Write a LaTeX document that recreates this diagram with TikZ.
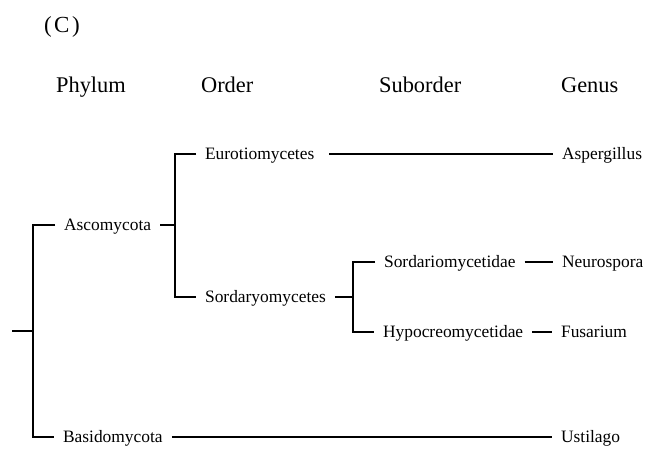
\documentclass[tikz,border=0pt]{standalone}
\usepackage{fontspec}
\setmainfont{Liberation Serif}
\usetikzlibrary{calc}

\begin{document}
\begin{tikzpicture}[x=1pt, y=-1pt, line width=2.2pt, line join=miter,
    rank/.style={font=\fontsize{22.4}{26}\selectfont, anchor=base west, inner sep=0pt},
    taxon/.style={font=\fontsize{17.4}{20}\selectfont, anchor=west, text height=11.5pt, text depth=0pt, inner xsep=8pt, inner ysep=0pt}]
            \useasboundingbox (0,0) rectangle (654,448);
            \node[font=\fontsize{23}{26}\selectfont, anchor=base west, inner sep=0pt] (panel) at (43,32) {(\kern2.5pt C\kern2.5pt)};
            \node[rank] (phylum) at (55,92) {Phylum};
            \node[rank] (order) at (200,92) {Order};
            \node[rank] (suborder) at (378,92) {Suborder};
            \node[rank] (genus) at (560,92) {Genus};
            % taxa
            \node[taxon] (asco) at (55,225) {Ascomycota};
            \node[taxon] (basi) at (54,437) {Basidomycota};
            \node[taxon] (euro) at (196,154) {Eurotiomycetes};
            \node[taxon] (sordy) at (196,297) {Sordaryomycetes};
            \node[taxon] (sordi) at (375,262) {Sordariomycetidae};
            \node[taxon] (hypo) at (374,332) {Hypocreomycetidae};
            \node[taxon] (asp) at (553,154) {Aspergillus};
            \node[taxon] (neuro) at (553,262) {Neurospora};
            \node[taxon] (fus) at (552,332) {Fusarium};
            \node[taxon] (ust) at (552,437) {Ustilago};
            % branch points
            \coordinate (root) at (12,331);
            \coordinate (j0) at (33,331);
            \coordinate (j1) at (175,225);
            \coordinate (j2) at (353,297);
            \draw (root) -- (j0);
            \draw (asco.west) -| (j0) |- (basi.west);
            \draw (asco.east) -- (j1);
            \draw (euro.west) -| (j1) |- (sordy.west);
            \draw (sordy.east) -- (j2);
            \draw (sordi.west) -| (j2) |- (hypo.west);
            \draw[shorten <=6pt] (euro.east) -- (asp.west);
            \draw (sordi.east) -- (neuro.west);
            \draw (hypo.east) -- (fus.west);
            \draw (basi.east) -- (ust.west);
        \end{tikzpicture}
\end{document}
